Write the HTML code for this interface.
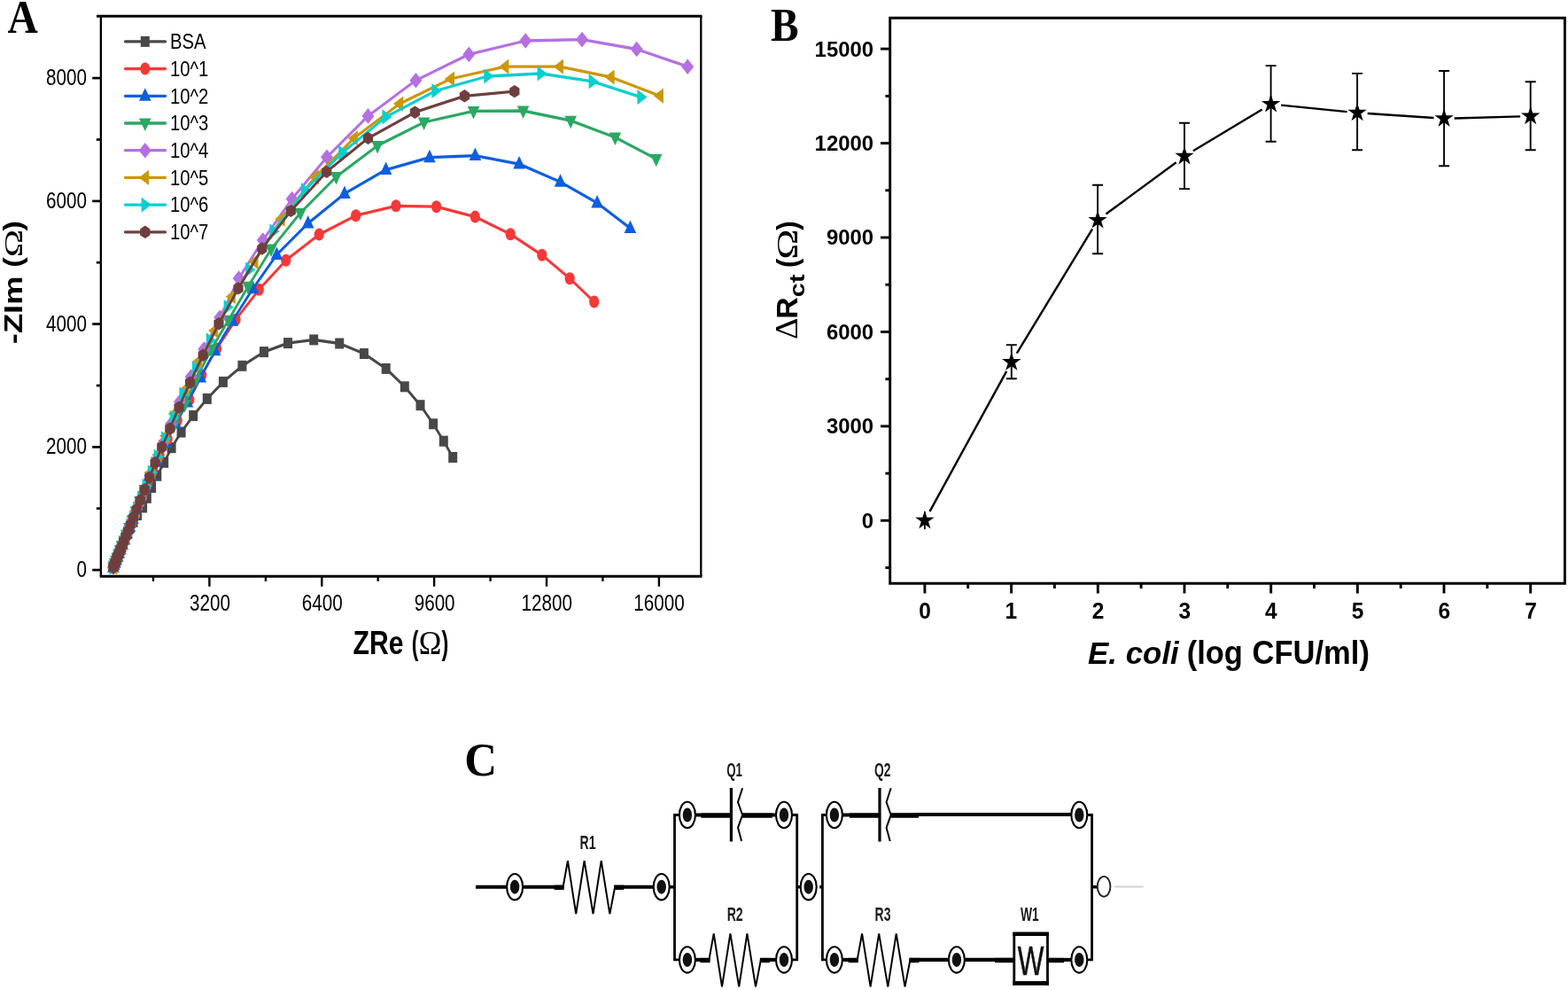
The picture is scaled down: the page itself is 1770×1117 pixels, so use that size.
<!DOCTYPE html>
<html><head><meta charset="utf-8"><title>Figure</title>
<style>html,body{margin:0;padding:0;background:#fff}svg{display:block}</style></head>
<body>
<svg width="1770" height="1117" viewBox="0 0 1770 1117">
<rect width="1770" height="1117" fill="#fff"/>
<text transform="translate(8.44,37.00) scale(0.9040,1.0000)" font-family="Liberation Serif, Times New Roman, serif" font-size="52.56" font-weight="bold" xml:space="preserve">A</text>
<text transform="translate(870.01,45.80) scale(0.8968,1.0000)" font-family="Liberation Serif, Times New Roman, serif" font-size="52.84" font-weight="bold" xml:space="preserve">B</text>
<text transform="translate(524.31,875.40) scale(0.9631,1.0000)" font-family="Liberation Serif, Times New Roman, serif" font-size="52.86" font-weight="bold" xml:space="preserve">C</text>
<g id="panelA">
<path d="M109 18.2H792.5M112.75 650.2H792.5" fill="none" stroke="#000" stroke-width="3"/>
<path d="M113.85 18.2V650.2M791.3 18.2V650.2" fill="none" stroke="#000" stroke-width="2.3"/>
<line x1="104.2" x2="113.85" y1="643.1" y2="643.1" stroke="#000" stroke-width="2.7"/>
<text transform="translate(86.42,651.10) scale(0.8260,1.0000)" font-family="Liberation Sans, Arial, Helvetica, sans-serif" font-size="25" xml:space="preserve">0</text>
<line x1="104.2" x2="113.85" y1="504.4" y2="504.4" stroke="#000" stroke-width="2.7"/>
<text transform="translate(51.97,512.35) scale(0.8260,1.0000)" font-family="Liberation Sans, Arial, Helvetica, sans-serif" font-size="25" xml:space="preserve">2000</text>
<line x1="104.2" x2="113.85" y1="365.6" y2="365.6" stroke="#000" stroke-width="2.7"/>
<text transform="translate(51.97,373.60) scale(0.8260,1.0000)" font-family="Liberation Sans, Arial, Helvetica, sans-serif" font-size="25" xml:space="preserve">4000</text>
<line x1="104.2" x2="113.85" y1="226.9" y2="226.9" stroke="#000" stroke-width="2.7"/>
<text transform="translate(51.97,234.85) scale(0.8260,1.0000)" font-family="Liberation Sans, Arial, Helvetica, sans-serif" font-size="25" xml:space="preserve">6000</text>
<line x1="104.2" x2="113.85" y1="88.1" y2="88.1" stroke="#000" stroke-width="2.7"/>
<text transform="translate(51.97,96.10) scale(0.8260,1.0000)" font-family="Liberation Sans, Arial, Helvetica, sans-serif" font-size="25" xml:space="preserve">8000</text>
<line x1="108.8" x2="113.85" y1="573.7" y2="573.7" stroke="#000" stroke-width="2.7"/>
<line x1="108.8" x2="113.85" y1="435.0" y2="435.0" stroke="#000" stroke-width="2.7"/>
<line x1="108.8" x2="113.85" y1="296.2" y2="296.2" stroke="#000" stroke-width="2.7"/>
<line x1="108.8" x2="113.85" y1="157.5" y2="157.5" stroke="#000" stroke-width="2.7"/>
<line x1="236.4" x2="236.4" y1="650.2" y2="661.7" stroke="#000" stroke-width="2.4"/>
<text transform="translate(214.09,689.40) scale(0.8260,1.0000)" font-family="Liberation Sans, Arial, Helvetica, sans-serif" font-size="25" xml:space="preserve">3200</text>
<line x1="363.3" x2="363.3" y1="650.2" y2="661.7" stroke="#000" stroke-width="2.4"/>
<text transform="translate(340.81,689.40) scale(0.8260,1.0000)" font-family="Liberation Sans, Arial, Helvetica, sans-serif" font-size="25" xml:space="preserve">6400</text>
<line x1="490.1" x2="490.1" y1="650.2" y2="661.7" stroke="#000" stroke-width="2.4"/>
<text transform="translate(467.70,689.40) scale(0.8260,1.0000)" font-family="Liberation Sans, Arial, Helvetica, sans-serif" font-size="25" xml:space="preserve">9600</text>
<line x1="617.0" x2="617.0" y1="650.2" y2="661.7" stroke="#000" stroke-width="2.4"/>
<text transform="translate(588.51,689.40) scale(0.8260,1.0000)" font-family="Liberation Sans, Arial, Helvetica, sans-serif" font-size="25" xml:space="preserve">12800</text>
<line x1="743.9" x2="743.9" y1="650.2" y2="661.7" stroke="#000" stroke-width="2.4"/>
<text transform="translate(715.36,689.40) scale(0.8260,1.0000)" font-family="Liberation Sans, Arial, Helvetica, sans-serif" font-size="25" xml:space="preserve">16000</text>
<line x1="173.0" x2="173.0" y1="650.2" y2="655.9" stroke="#000" stroke-width="2.4"/>
<line x1="299.9" x2="299.9" y1="650.2" y2="655.9" stroke="#000" stroke-width="2.4"/>
<line x1="426.7" x2="426.7" y1="650.2" y2="655.9" stroke="#000" stroke-width="2.4"/>
<line x1="553.6" x2="553.6" y1="650.2" y2="655.9" stroke="#000" stroke-width="2.4"/>
<line x1="680.4" x2="680.4" y1="650.2" y2="655.9" stroke="#000" stroke-width="2.4"/>
<text transform="translate(398.60,738.30) scale(0.8050,1.0000)" font-family="Liberation Sans, Arial, Helvetica, sans-serif" font-size="37.5" font-weight="bold" xml:space="preserve">ZRe</text>
<text transform="translate(464.75,738.30) scale(0.6175,1.0000)" font-family="Liberation Sans, Arial, Helvetica, sans-serif" font-size="37.3" font-weight="bold" xml:space="preserve">(</text>
<text transform="translate(472.72,738.30) scale(0.9218,1.0000)" font-family="Liberation Serif, Times New Roman, serif" font-size="37.31" xml:space="preserve">Ω</text>
<text transform="translate(498.48,738.30) scale(0.6270,1.0000)" font-family="Liberation Sans, Arial, Helvetica, sans-serif" font-size="37.3" font-weight="bold" xml:space="preserve">)</text>
<text transform="translate(25.10,386.80) rotate(-90) translate(-1.42,0) scale(0.9992,0.8306)" font-family="Liberation Sans, Arial, Helvetica, sans-serif" font-size="36.4" font-weight="bold">-ZIm</text>
<text transform="translate(25.10,300.10) rotate(-90) translate(-1.71,0) scale(0.9442,0.8306)" font-family="Liberation Sans, Arial, Helvetica, sans-serif" font-size="36.4" font-weight="bold">(</text>
<text transform="translate(25.10,288.00) rotate(-90) translate(-2.20,0) scale(1.4513,1.0000)" font-family="Liberation Serif, Times New Roman, serif" font-size="29.3">Ω</text>
<text transform="translate(25.10,260.40) rotate(-90) translate(-0.03,0) scale(0.9442,0.8306)" font-family="Liberation Sans, Arial, Helvetica, sans-serif" font-size="36.4" font-weight="bold">)</text>
<path transform="scale(0.8,1)" d="M159.88 640.2L160.69 638.6L161.25 637.5L161.90 636.2L162.63 634.7L163.47 633.0L164.44 631.1L165.54 628.9L166.80 626.5L168.24 623.6L169.90 620.3L171.82 616.6L174.04 612.4L176.63 607.6L179.70 602.1L183.40 595.9L187.95 588.9L193.74 581.1L201.37 572.5L207.25 561.8L213.87 550.0L221.62 536.8L231.50 521.8L242.00 505.2L255.75 487.6L272.75 469.0L292.25 449.9L314.88 430.9L341.75 412.8L372.50 397.1L406.25 387.1L442.75 383.4L479.00 387.5L513.62 399.0L544.62 415.9L571.00 436.3L593.12 457.2L611.38 478.3L626.00 497.7L639.00 516.0" fill="none" stroke="#484848" stroke-width="3.3" stroke-linejoin="round"/>
<rect x="122.9" y="634.2" width="10" height="12" fill="#484848"/><rect x="123.6" y="632.6" width="10" height="12" fill="#484848"/><rect x="124.0" y="631.5" width="10" height="12" fill="#484848"/><rect x="124.5" y="630.2" width="10" height="12" fill="#484848"/><rect x="125.1" y="628.7" width="10" height="12" fill="#484848"/><rect x="125.8" y="627.0" width="10" height="12" fill="#484848"/><rect x="126.5" y="625.1" width="10" height="12" fill="#484848"/><rect x="127.4" y="622.9" width="10" height="12" fill="#484848"/><rect x="128.4" y="620.5" width="10" height="12" fill="#484848"/><rect x="129.6" y="617.6" width="10" height="12" fill="#484848"/><rect x="130.9" y="614.3" width="10" height="12" fill="#484848"/><rect x="132.5" y="610.6" width="10" height="12" fill="#484848"/><rect x="134.2" y="606.4" width="10" height="12" fill="#484848"/><rect x="136.3" y="601.6" width="10" height="12" fill="#484848"/><rect x="138.8" y="596.1" width="10" height="12" fill="#484848"/><rect x="141.7" y="589.9" width="10" height="12" fill="#484848"/><rect x="145.4" y="582.9" width="10" height="12" fill="#484848"/><rect x="150.0" y="575.1" width="10" height="12" fill="#484848"/><rect x="156.1" y="566.5" width="10" height="12" fill="#484848"/><rect x="160.8" y="555.8" width="10" height="12" fill="#484848"/><rect x="166.1" y="544.0" width="10" height="12" fill="#484848"/><rect x="172.3" y="530.8" width="10" height="12" fill="#484848"/><rect x="180.2" y="515.8" width="10" height="12" fill="#484848"/><rect x="188.6" y="499.2" width="10" height="12" fill="#484848"/><rect x="199.6" y="481.6" width="10" height="12" fill="#484848"/><rect x="213.2" y="463.0" width="10" height="12" fill="#484848"/><rect x="228.8" y="443.9" width="10" height="12" fill="#484848"/><rect x="246.9" y="424.9" width="10" height="12" fill="#484848"/><rect x="268.4" y="406.8" width="10" height="12" fill="#484848"/><rect x="293.0" y="391.1" width="10" height="12" fill="#484848"/><rect x="320.0" y="381.1" width="10" height="12" fill="#484848"/><rect x="349.2" y="377.4" width="10" height="12" fill="#484848"/><rect x="378.2" y="381.5" width="10" height="12" fill="#484848"/><rect x="405.9" y="393.0" width="10" height="12" fill="#484848"/><rect x="430.7" y="409.9" width="10" height="12" fill="#484848"/><rect x="451.8" y="430.3" width="10" height="12" fill="#484848"/><rect x="469.5" y="451.2" width="10" height="12" fill="#484848"/><rect x="484.1" y="472.3" width="10" height="12" fill="#484848"/><rect x="495.8" y="491.7" width="10" height="12" fill="#484848"/><rect x="506.2" y="510.0" width="10" height="12" fill="#484848"/>
<path transform="scale(0.8,1)" d="M159.88 640.2L160.73 638.5L161.39 637.2L162.16 635.7L163.03 633.9L164.02 631.9L165.16 629.7L166.46 627.1L167.95 624.1L169.65 620.8L171.59 616.9L173.81 612.5L176.35 607.4L179.26 601.7L182.58 595.1L186.39 587.6L190.75 579.0L195.77 569.1L201.54 557.9L208.27 545.2L215.98 530.6L225.18 514.1L236.55 495.5L250.30 474.5L267.38 450.9L284.62 423.3L305.75 393.4L332.62 360.7L365.38 326.8L403.50 293.7L450.25 264.6L502.12 243.2L558.75 232.3L615.75 233.2L670.37 244.6L720.25 264.2L764.75 287.8L804.00 314.2L838.38 340.5" fill="none" stroke="#F63838" stroke-width="3.3" stroke-linejoin="round"/>
<ellipse cx="127.9" cy="640.2" rx="5.6" ry="7" fill="#F63838"/><ellipse cx="128.6" cy="638.5" rx="5.6" ry="7" fill="#F63838"/><ellipse cx="129.1" cy="637.2" rx="5.6" ry="7" fill="#F63838"/><ellipse cx="129.7" cy="635.7" rx="5.6" ry="7" fill="#F63838"/><ellipse cx="130.4" cy="633.9" rx="5.6" ry="7" fill="#F63838"/><ellipse cx="131.2" cy="631.9" rx="5.6" ry="7" fill="#F63838"/><ellipse cx="132.1" cy="629.7" rx="5.6" ry="7" fill="#F63838"/><ellipse cx="133.2" cy="627.1" rx="5.6" ry="7" fill="#F63838"/><ellipse cx="134.4" cy="624.1" rx="5.6" ry="7" fill="#F63838"/><ellipse cx="135.7" cy="620.8" rx="5.6" ry="7" fill="#F63838"/><ellipse cx="137.3" cy="616.9" rx="5.6" ry="7" fill="#F63838"/><ellipse cx="139.0" cy="612.5" rx="5.6" ry="7" fill="#F63838"/><ellipse cx="141.1" cy="607.4" rx="5.6" ry="7" fill="#F63838"/><ellipse cx="143.4" cy="601.7" rx="5.6" ry="7" fill="#F63838"/><ellipse cx="146.1" cy="595.1" rx="5.6" ry="7" fill="#F63838"/><ellipse cx="149.1" cy="587.6" rx="5.6" ry="7" fill="#F63838"/><ellipse cx="152.6" cy="579.0" rx="5.6" ry="7" fill="#F63838"/><ellipse cx="156.6" cy="569.1" rx="5.6" ry="7" fill="#F63838"/><ellipse cx="161.2" cy="557.9" rx="5.6" ry="7" fill="#F63838"/><ellipse cx="166.6" cy="545.2" rx="5.6" ry="7" fill="#F63838"/><ellipse cx="172.8" cy="530.6" rx="5.6" ry="7" fill="#F63838"/><ellipse cx="180.1" cy="514.1" rx="5.6" ry="7" fill="#F63838"/><ellipse cx="189.2" cy="495.5" rx="5.6" ry="7" fill="#F63838"/><ellipse cx="200.2" cy="474.5" rx="5.6" ry="7" fill="#F63838"/><ellipse cx="213.9" cy="450.9" rx="5.6" ry="7" fill="#F63838"/><ellipse cx="227.7" cy="423.3" rx="5.6" ry="7" fill="#F63838"/><ellipse cx="244.6" cy="393.4" rx="5.6" ry="7" fill="#F63838"/><ellipse cx="266.1" cy="360.7" rx="5.6" ry="7" fill="#F63838"/><ellipse cx="292.3" cy="326.8" rx="5.6" ry="7" fill="#F63838"/><ellipse cx="322.8" cy="293.7" rx="5.6" ry="7" fill="#F63838"/><ellipse cx="360.2" cy="264.6" rx="5.6" ry="7" fill="#F63838"/><ellipse cx="401.7" cy="243.2" rx="5.6" ry="7" fill="#F63838"/><ellipse cx="447.0" cy="232.3" rx="5.6" ry="7" fill="#F63838"/><ellipse cx="492.6" cy="233.2" rx="5.6" ry="7" fill="#F63838"/><ellipse cx="536.3" cy="244.6" rx="5.6" ry="7" fill="#F63838"/><ellipse cx="576.2" cy="264.2" rx="5.6" ry="7" fill="#F63838"/><ellipse cx="611.8" cy="287.8" rx="5.6" ry="7" fill="#F63838"/><ellipse cx="643.2" cy="314.2" rx="5.6" ry="7" fill="#F63838"/><ellipse cx="670.7" cy="340.5" rx="5.6" ry="7" fill="#F63838"/>
<path transform="scale(0.8,1)" d="M159.88 640.2L161.17 637.6L162.50 635.0L164.03 631.9L165.77 628.5L167.76 624.5L170.04 620.0L172.65 614.8L175.62 608.9L179.03 602.1L182.93 594.4L187.39 585.6L192.52 575.5L198.41 564.0L205.21 550.9L213.14 535.9L222.27 518.9L233.65 499.7L247.46 478.1L264.38 453.9L282.88 425.9L303.25 395.8L327.88 362.3L356.75 325.8L390.50 287.4L434.62 252.0L486.12 218.6L544.50 191.6L606.12 177.7L670.50 175.6L732.62 185.1L790.62 205.2L842.62 229.0L889.25 257.5" fill="none" stroke="#0D5EE0" stroke-width="3.3" stroke-linejoin="round"/>
<path d="M127.9 631.2L134.7 645.7L121.1 645.7Z" fill="#0D5EE0"/><path d="M128.9 628.6L135.7 643.1L122.1 643.1Z" fill="#0D5EE0"/><path d="M130.0 626.0L136.8 640.5L123.2 640.5Z" fill="#0D5EE0"/><path d="M131.2 622.9L138.0 637.4L124.4 637.4Z" fill="#0D5EE0"/><path d="M132.6 619.5L139.4 634.0L125.8 634.0Z" fill="#0D5EE0"/><path d="M134.2 615.5L141.0 630.0L127.4 630.0Z" fill="#0D5EE0"/><path d="M136.0 611.0L142.8 625.5L129.2 625.5Z" fill="#0D5EE0"/><path d="M138.1 605.8L144.9 620.3L131.3 620.3Z" fill="#0D5EE0"/><path d="M140.5 599.9L147.3 614.4L133.7 614.4Z" fill="#0D5EE0"/><path d="M143.2 593.1L150.0 607.6L136.4 607.6Z" fill="#0D5EE0"/><path d="M146.3 585.4L153.1 599.9L139.5 599.9Z" fill="#0D5EE0"/><path d="M149.9 576.6L156.7 591.1L143.1 591.1Z" fill="#0D5EE0"/><path d="M154.0 566.5L160.8 581.0L147.2 581.0Z" fill="#0D5EE0"/><path d="M158.7 555.0L165.5 569.5L151.9 569.5Z" fill="#0D5EE0"/><path d="M164.2 541.9L171.0 556.4L157.4 556.4Z" fill="#0D5EE0"/><path d="M170.5 526.9L177.3 541.4L163.7 541.4Z" fill="#0D5EE0"/><path d="M177.8 509.9L184.6 524.4L171.0 524.4Z" fill="#0D5EE0"/><path d="M186.9 490.7L193.7 505.2L180.1 505.2Z" fill="#0D5EE0"/><path d="M198.0 469.1L204.8 483.6L191.2 483.6Z" fill="#0D5EE0"/><path d="M211.5 444.9L218.3 459.4L204.7 459.4Z" fill="#0D5EE0"/><path d="M226.3 416.9L233.1 431.4L219.5 431.4Z" fill="#0D5EE0"/><path d="M242.6 386.8L249.4 401.3L235.8 401.3Z" fill="#0D5EE0"/><path d="M262.3 353.3L269.1 367.8L255.5 367.8Z" fill="#0D5EE0"/><path d="M285.4 316.8L292.2 331.3L278.6 331.3Z" fill="#0D5EE0"/><path d="M312.4 278.4L319.2 292.9L305.6 292.9Z" fill="#0D5EE0"/><path d="M347.7 243.0L354.5 257.5L340.9 257.5Z" fill="#0D5EE0"/><path d="M388.9 209.6L395.7 224.1L382.1 224.1Z" fill="#0D5EE0"/><path d="M435.6 182.6L442.4 197.1L428.8 197.1Z" fill="#0D5EE0"/><path d="M484.9 168.7L491.7 183.2L478.1 183.2Z" fill="#0D5EE0"/><path d="M536.4 166.6L543.2 181.1L529.6 181.1Z" fill="#0D5EE0"/><path d="M586.1 176.1L592.9 190.6L579.3 190.6Z" fill="#0D5EE0"/><path d="M632.5 196.2L639.3 210.7L625.7 210.7Z" fill="#0D5EE0"/><path d="M674.1 220.0L680.9 234.5L667.3 234.5Z" fill="#0D5EE0"/><path d="M711.4 248.5L718.2 263.0L704.6 263.0Z" fill="#0D5EE0"/>
<path transform="scale(0.8,1)" d="M159.88 640.2L160.86 638.2L162.18 635.6L163.68 632.6L165.40 629.2L167.37 625.3L169.61 620.8L172.18 615.7L175.12 609.9L178.48 603.2L182.32 595.6L186.72 586.9L191.76 576.9L197.54 565.6L204.20 552.6L211.98 537.9L220.75 521.0L231.68 502.0L244.85 480.6L260.62 456.4L276.62 427.9L298.12 394.0L322.25 361.3L350.12 323.3L382.62 281.1L423.88 240.2L474.38 199.5L532.62 164.4L598.25 138.0L668.12 125.4L738.25 125.0L805.25 136.2L868.00 155.0L925.88 179.2" fill="none" stroke="#2AA862" stroke-width="3.3" stroke-linejoin="round"/>
<path d="M127.9 649.2L134.7 634.7L121.1 634.7Z" fill="#2AA862"/><path d="M128.7 647.2L135.5 632.7L121.9 632.7Z" fill="#2AA862"/><path d="M129.7 644.6L136.5 630.1L122.9 630.1Z" fill="#2AA862"/><path d="M130.9 641.6L137.7 627.1L124.1 627.1Z" fill="#2AA862"/><path d="M132.3 638.2L139.1 623.7L125.5 623.7Z" fill="#2AA862"/><path d="M133.9 634.3L140.7 619.8L127.1 619.8Z" fill="#2AA862"/><path d="M135.7 629.8L142.5 615.3L128.9 615.3Z" fill="#2AA862"/><path d="M137.7 624.7L144.5 610.2L130.9 610.2Z" fill="#2AA862"/><path d="M140.1 618.9L146.9 604.4L133.3 604.4Z" fill="#2AA862"/><path d="M142.8 612.2L149.6 597.7L136.0 597.7Z" fill="#2AA862"/><path d="M145.9 604.6L152.7 590.1L139.1 590.1Z" fill="#2AA862"/><path d="M149.4 595.9L156.2 581.4L142.6 581.4Z" fill="#2AA862"/><path d="M153.4 585.9L160.2 571.4L146.6 571.4Z" fill="#2AA862"/><path d="M158.0 574.6L164.8 560.1L151.2 560.1Z" fill="#2AA862"/><path d="M163.4 561.6L170.2 547.1L156.6 547.1Z" fill="#2AA862"/><path d="M169.6 546.9L176.4 532.4L162.8 532.4Z" fill="#2AA862"/><path d="M176.6 530.0L183.4 515.5L169.8 515.5Z" fill="#2AA862"/><path d="M185.3 511.0L192.1 496.5L178.5 496.5Z" fill="#2AA862"/><path d="M195.9 489.6L202.7 475.1L189.1 475.1Z" fill="#2AA862"/><path d="M208.5 465.4L215.3 450.9L201.7 450.9Z" fill="#2AA862"/><path d="M221.3 436.9L228.1 422.4L214.5 422.4Z" fill="#2AA862"/><path d="M238.5 403.0L245.3 388.5L231.7 388.5Z" fill="#2AA862"/><path d="M257.8 370.3L264.6 355.8L251.0 355.8Z" fill="#2AA862"/><path d="M280.1 332.3L286.9 317.8L273.3 317.8Z" fill="#2AA862"/><path d="M306.1 290.1L312.9 275.6L299.3 275.6Z" fill="#2AA862"/><path d="M339.1 249.2L345.9 234.7L332.3 234.7Z" fill="#2AA862"/><path d="M379.5 208.5L386.3 194.0L372.7 194.0Z" fill="#2AA862"/><path d="M426.1 173.4L432.9 158.9L419.3 158.9Z" fill="#2AA862"/><path d="M478.6 147.0L485.4 132.5L471.8 132.5Z" fill="#2AA862"/><path d="M534.5 134.4L541.3 119.9L527.7 119.9Z" fill="#2AA862"/><path d="M590.6 134.0L597.4 119.5L583.8 119.5Z" fill="#2AA862"/><path d="M644.2 145.2L651.0 130.7L637.4 130.7Z" fill="#2AA862"/><path d="M694.4 164.0L701.2 149.5L687.6 149.5Z" fill="#2AA862"/><path d="M740.7 188.2L747.5 173.7L733.9 173.7Z" fill="#2AA862"/>
<path transform="scale(0.8,1)" d="M159.88 640.2L160.76 638.4L161.91 636.2L163.21 633.6L164.71 630.6L166.41 627.2L168.36 623.3L170.59 618.9L173.13 613.8L176.04 608.0L179.36 601.4L183.16 593.9L187.50 585.2L192.45 575.3L198.09 564.0L204.54 551.1L211.92 536.4L220.11 519.5L229.96 500.3L241.24 478.4L253.75 453.3L269.50 425.0L287.88 394.0L310.25 358.2L337.00 314.0L371.00 271.0L412.00 224.5L461.25 177.2L519.38 130.9L586.75 90.7L661.62 61.4L741.50 46.0L821.25 44.6L898.38 55.5L970.25 75.2" fill="none" stroke="#B470E1" stroke-width="3.3" stroke-linejoin="round"/>
<path d="M127.9 631.4L134.9 640.2L127.9 649.0L120.9 640.2Z" fill="#B470E1"/><path d="M128.6 629.6L135.6 638.4L128.6 647.2L121.6 638.4Z" fill="#B470E1"/><path d="M129.5 627.4L136.5 636.2L129.5 645.0L122.5 636.2Z" fill="#B470E1"/><path d="M130.6 624.8L137.6 633.6L130.6 642.4L123.6 633.6Z" fill="#B470E1"/><path d="M131.8 621.8L138.8 630.6L131.8 639.4L124.8 630.6Z" fill="#B470E1"/><path d="M133.1 618.4L140.1 627.2L133.1 636.0L126.1 627.2Z" fill="#B470E1"/><path d="M134.7 614.5L141.7 623.3L134.7 632.1L127.7 623.3Z" fill="#B470E1"/><path d="M136.5 610.1L143.5 618.9L136.5 627.7L129.5 618.9Z" fill="#B470E1"/><path d="M138.5 605.0L145.5 613.8L138.5 622.6L131.5 613.8Z" fill="#B470E1"/><path d="M140.8 599.2L147.8 608.0L140.8 616.8L133.8 608.0Z" fill="#B470E1"/><path d="M143.5 592.6L150.5 601.4L143.5 610.2L136.5 601.4Z" fill="#B470E1"/><path d="M146.5 585.1L153.5 593.9L146.5 602.7L139.5 593.9Z" fill="#B470E1"/><path d="M150.0 576.4L157.0 585.2L150.0 594.0L143.0 585.2Z" fill="#B470E1"/><path d="M154.0 566.5L161.0 575.3L154.0 584.1L147.0 575.3Z" fill="#B470E1"/><path d="M158.5 555.2L165.5 564.0L158.5 572.8L151.5 564.0Z" fill="#B470E1"/><path d="M163.6 542.3L170.6 551.1L163.6 559.9L156.6 551.1Z" fill="#B470E1"/><path d="M169.5 527.6L176.5 536.4L169.5 545.2L162.5 536.4Z" fill="#B470E1"/><path d="M176.1 510.7L183.1 519.5L176.1 528.3L169.1 519.5Z" fill="#B470E1"/><path d="M184.0 491.5L191.0 500.3L184.0 509.1L177.0 500.3Z" fill="#B470E1"/><path d="M193.0 469.6L200.0 478.4L193.0 487.2L186.0 478.4Z" fill="#B470E1"/><path d="M203.0 444.5L210.0 453.3L203.0 462.1L196.0 453.3Z" fill="#B470E1"/><path d="M215.6 416.2L222.6 425.0L215.6 433.8L208.6 425.0Z" fill="#B470E1"/><path d="M230.3 385.2L237.3 394.0L230.3 402.8L223.3 394.0Z" fill="#B470E1"/><path d="M248.2 349.4L255.2 358.2L248.2 367.0L241.2 358.2Z" fill="#B470E1"/><path d="M269.6 305.2L276.6 314.0L269.6 322.8L262.6 314.0Z" fill="#B470E1"/><path d="M296.8 262.2L303.8 271.0L296.8 279.8L289.8 271.0Z" fill="#B470E1"/><path d="M329.6 215.7L336.6 224.5L329.6 233.3L322.6 224.5Z" fill="#B470E1"/><path d="M369.0 168.4L376.0 177.2L369.0 186.0L362.0 177.2Z" fill="#B470E1"/><path d="M415.5 122.1L422.5 130.9L415.5 139.7L408.5 130.9Z" fill="#B470E1"/><path d="M469.4 81.9L476.4 90.7L469.4 99.5L462.4 90.7Z" fill="#B470E1"/><path d="M529.3 52.6L536.3 61.4L529.3 70.2L522.3 61.4Z" fill="#B470E1"/><path d="M593.2 37.2L600.2 46.0L593.2 54.8L586.2 46.0Z" fill="#B470E1"/><path d="M657.0 35.8L664.0 44.6L657.0 53.4L650.0 44.6Z" fill="#B470E1"/><path d="M718.7 46.7L725.7 55.5L718.7 64.3L711.7 55.5Z" fill="#B470E1"/><path d="M776.2 66.4L783.2 75.2L776.2 84.0L769.2 75.2Z" fill="#B470E1"/>
<path transform="scale(0.8,1)" d="M159.88 640.2L160.87 638.2L162.78 634.4L164.97 630.1L167.47 625.1L170.33 619.4L173.59 612.9L177.32 605.5L181.58 597.0L186.44 587.3L191.99 576.2L198.31 563.5L205.52 549.0L213.67 532.4L222.91 513.3L233.82 491.7L245.87 466.7L261.88 439.1L280.38 407.6L302.50 373.1L327.12 334.7L359.12 295.3L396.75 247.1L444.75 199.8L499.50 155.9L563.75 117.1L636.00 89.0L712.75 75.2L789.75 75.2L861.88 87.0L930.88 108.1" fill="none" stroke="#CC9707" stroke-width="3.3" stroke-linejoin="round"/>
<path d="M120.9 640.2L132.1 631.6L132.1 648.8Z" fill="#CC9707"/><path d="M121.7 638.2L132.9 629.6L132.9 646.8Z" fill="#CC9707"/><path d="M123.2 634.4L134.4 625.8L134.4 643.0Z" fill="#CC9707"/><path d="M125.0 630.1L136.2 621.5L136.2 638.7Z" fill="#CC9707"/><path d="M127.0 625.1L138.2 616.5L138.2 633.7Z" fill="#CC9707"/><path d="M129.3 619.4L140.5 610.8L140.5 628.0Z" fill="#CC9707"/><path d="M131.9 612.9L143.1 604.3L143.1 621.5Z" fill="#CC9707"/><path d="M134.9 605.5L146.1 596.9L146.1 614.1Z" fill="#CC9707"/><path d="M138.3 597.0L149.5 588.4L149.5 605.6Z" fill="#CC9707"/><path d="M142.2 587.3L153.4 578.7L153.4 595.9Z" fill="#CC9707"/><path d="M146.6 576.2L157.8 567.6L157.8 584.8Z" fill="#CC9707"/><path d="M151.7 563.5L162.9 554.9L162.9 572.1Z" fill="#CC9707"/><path d="M157.4 549.0L168.6 540.4L168.6 557.6Z" fill="#CC9707"/><path d="M163.9 532.4L175.1 523.8L175.1 541.0Z" fill="#CC9707"/><path d="M171.3 513.3L182.5 504.7L182.5 521.9Z" fill="#CC9707"/><path d="M180.1 491.7L191.3 483.1L191.3 500.3Z" fill="#CC9707"/><path d="M189.7 466.7L200.9 458.1L200.9 475.3Z" fill="#CC9707"/><path d="M202.5 439.1L213.7 430.5L213.7 447.7Z" fill="#CC9707"/><path d="M217.3 407.6L228.5 399.0L228.5 416.2Z" fill="#CC9707"/><path d="M235.0 373.1L246.2 364.5L246.2 381.7Z" fill="#CC9707"/><path d="M254.7 334.7L265.9 326.1L265.9 343.3Z" fill="#CC9707"/><path d="M280.3 295.3L291.5 286.7L291.5 303.9Z" fill="#CC9707"/><path d="M310.4 247.1L321.6 238.5L321.6 255.7Z" fill="#CC9707"/><path d="M348.8 199.8L360.0 191.2L360.0 208.4Z" fill="#CC9707"/><path d="M392.6 155.9L403.8 147.3L403.8 164.5Z" fill="#CC9707"/><path d="M444.0 117.1L455.2 108.5L455.2 125.7Z" fill="#CC9707"/><path d="M501.8 89.0L513.0 80.4L513.0 97.6Z" fill="#CC9707"/><path d="M563.2 75.2L574.4 66.6L574.4 83.8Z" fill="#CC9707"/><path d="M624.8 75.2L636.0 66.6L636.0 83.8Z" fill="#CC9707"/><path d="M682.5 87.0L693.7 78.4L693.7 95.6Z" fill="#CC9707"/><path d="M737.7 108.1L748.9 99.5L748.9 116.7Z" fill="#CC9707"/>
<path transform="scale(0.8,1)" d="M159.88 640.2L160.63 638.7L162.02 635.9L163.60 632.8L165.40 629.2L167.47 625.1L169.83 620.4L172.53 615.0L175.61 608.9L179.13 601.9L183.15 593.9L187.75 584.7L193.00 574.2L198.98 562.3L205.83 548.6L213.59 533.0L222.41 515.1L232.93 494.8L244.82 471.6L258.25 445.0L276.25 415.5L296.38 383.9L321.00 346.5L351.75 304.2L385.75 260.9L430.00 214.6L483.00 172.3L544.50 131.9L614.50 102.5L688.25 86.0L763.38 83.0L836.00 91.9L904.50 109.6" fill="none" stroke="#08CED1" stroke-width="3.3" stroke-linejoin="round"/>
<path d="M134.9 640.2L123.7 631.6L123.7 648.8Z" fill="#08CED1"/><path d="M135.5 638.7L124.3 630.1L124.3 647.3Z" fill="#08CED1"/><path d="M136.6 635.9L125.4 627.3L125.4 644.5Z" fill="#08CED1"/><path d="M137.9 632.8L126.7 624.2L126.7 641.4Z" fill="#08CED1"/><path d="M139.3 629.2L128.1 620.6L128.1 637.8Z" fill="#08CED1"/><path d="M141.0 625.1L129.8 616.5L129.8 633.7Z" fill="#08CED1"/><path d="M142.9 620.4L131.7 611.8L131.7 629.0Z" fill="#08CED1"/><path d="M145.0 615.0L133.8 606.4L133.8 623.6Z" fill="#08CED1"/><path d="M147.5 608.9L136.3 600.3L136.3 617.5Z" fill="#08CED1"/><path d="M150.3 601.9L139.1 593.3L139.1 610.5Z" fill="#08CED1"/><path d="M153.5 593.9L142.3 585.3L142.3 602.5Z" fill="#08CED1"/><path d="M157.2 584.7L146.0 576.1L146.0 593.3Z" fill="#08CED1"/><path d="M161.4 574.2L150.2 565.6L150.2 582.8Z" fill="#08CED1"/><path d="M166.2 562.3L155.0 553.7L155.0 570.9Z" fill="#08CED1"/><path d="M171.7 548.6L160.5 540.0L160.5 557.2Z" fill="#08CED1"/><path d="M177.9 533.0L166.7 524.4L166.7 541.6Z" fill="#08CED1"/><path d="M184.9 515.1L173.7 506.5L173.7 523.7Z" fill="#08CED1"/><path d="M193.3 494.8L182.1 486.2L182.1 503.4Z" fill="#08CED1"/><path d="M202.9 471.6L191.7 463.0L191.7 480.2Z" fill="#08CED1"/><path d="M213.6 445.0L202.4 436.4L202.4 453.6Z" fill="#08CED1"/><path d="M228.0 415.5L216.8 406.9L216.8 424.1Z" fill="#08CED1"/><path d="M244.1 383.9L232.9 375.3L232.9 392.5Z" fill="#08CED1"/><path d="M263.8 346.5L252.6 337.9L252.6 355.1Z" fill="#08CED1"/><path d="M288.4 304.2L277.2 295.6L277.2 312.8Z" fill="#08CED1"/><path d="M315.6 260.9L304.4 252.3L304.4 269.5Z" fill="#08CED1"/><path d="M351.0 214.6L339.8 206.0L339.8 223.2Z" fill="#08CED1"/><path d="M393.4 172.3L382.2 163.7L382.2 180.9Z" fill="#08CED1"/><path d="M442.6 131.9L431.4 123.3L431.4 140.5Z" fill="#08CED1"/><path d="M498.6 102.5L487.4 93.9L487.4 111.1Z" fill="#08CED1"/><path d="M557.6 86.0L546.4 77.4L546.4 94.6Z" fill="#08CED1"/><path d="M617.7 83.0L606.5 74.4L606.5 91.6Z" fill="#08CED1"/><path d="M675.8 91.9L664.6 83.3L664.6 100.5Z" fill="#08CED1"/><path d="M730.6 109.6L719.4 101.0L719.4 118.2Z" fill="#08CED1"/>
<path transform="scale(0.8,1)" d="M159.88 640.2L160.80 638.4L161.51 637.0L162.32 635.3L163.25 633.5L164.32 631.4L165.53 628.9L166.92 626.2L168.51 623.0L170.33 619.4L172.40 615.3L174.77 610.6L177.48 605.2L180.58 599.0L184.11 592.0L188.15 583.9L192.76 574.8L198.01 564.3L204.00 552.4L211.00 538.7L219.00 522.3L228.37 504.5L239.75 483.6L252.50 459.6L268.12 431.6L286.50 400.7L308.75 365.2L336.25 325.4L369.75 280.5L410.38 237.9L460.75 193.9L519.38 155.9L585.50 126.7L655.50 108.3L726.00 103.1" fill="none" stroke="#6F3F3F" stroke-width="3.3" stroke-linejoin="round"/>
<path d="M127.9 633.0L133.5 636.6L133.5 643.8L127.9 647.4L122.3 643.8L122.3 636.6Z" fill="#6F3F3F"/><path d="M128.6 631.2L134.2 634.8L134.2 642.0L128.6 645.6L123.0 642.0L123.0 634.8Z" fill="#6F3F3F"/><path d="M129.2 629.8L134.8 633.4L134.8 640.6L129.2 644.2L123.6 640.6L123.6 633.4Z" fill="#6F3F3F"/><path d="M129.9 628.1L135.5 631.7L135.5 638.9L129.9 642.5L124.3 638.9L124.3 631.7Z" fill="#6F3F3F"/><path d="M130.6 626.3L136.2 629.9L136.2 637.1L130.6 640.7L125.0 637.1L125.0 629.9Z" fill="#6F3F3F"/><path d="M131.5 624.2L137.1 627.8L137.1 635.0L131.5 638.6L125.9 635.0L125.9 627.8Z" fill="#6F3F3F"/><path d="M132.4 621.7L138.0 625.3L138.0 632.5L132.4 636.1L126.8 632.5L126.8 625.3Z" fill="#6F3F3F"/><path d="M133.5 619.0L139.1 622.6L139.1 629.8L133.5 633.4L127.9 629.8L127.9 622.6Z" fill="#6F3F3F"/><path d="M134.8 615.8L140.4 619.4L140.4 626.6L134.8 630.2L129.2 626.6L129.2 619.4Z" fill="#6F3F3F"/><path d="M136.3 612.2L141.9 615.8L141.9 623.0L136.3 626.6L130.7 623.0L130.7 615.8Z" fill="#6F3F3F"/><path d="M137.9 608.1L143.5 611.7L143.5 618.9L137.9 622.5L132.3 618.9L132.3 611.7Z" fill="#6F3F3F"/><path d="M139.8 603.4L145.4 607.0L145.4 614.2L139.8 617.8L134.2 614.2L134.2 607.0Z" fill="#6F3F3F"/><path d="M142.0 598.0L147.6 601.6L147.6 608.8L142.0 612.4L136.4 608.8L136.4 601.6Z" fill="#6F3F3F"/><path d="M144.5 591.8L150.1 595.4L150.1 602.6L144.5 606.2L138.9 602.6L138.9 595.4Z" fill="#6F3F3F"/><path d="M147.3 584.8L152.9 588.4L152.9 595.6L147.3 599.2L141.7 595.6L141.7 588.4Z" fill="#6F3F3F"/><path d="M150.5 576.7L156.1 580.3L156.1 587.5L150.5 591.1L144.9 587.5L144.9 580.3Z" fill="#6F3F3F"/><path d="M154.2 567.6L159.8 571.2L159.8 578.4L154.2 582.0L148.6 578.4L148.6 571.2Z" fill="#6F3F3F"/><path d="M158.4 557.1L164.0 560.7L164.0 567.9L158.4 571.5L152.8 567.9L152.8 560.7Z" fill="#6F3F3F"/><path d="M163.2 545.2L168.8 548.8L168.8 556.0L163.2 559.6L157.6 556.0L157.6 548.8Z" fill="#6F3F3F"/><path d="M168.8 531.5L174.4 535.1L174.4 542.3L168.8 545.9L163.2 542.3L163.2 535.1Z" fill="#6F3F3F"/><path d="M175.2 515.1L180.8 518.7L180.8 525.9L175.2 529.5L169.6 525.9L169.6 518.7Z" fill="#6F3F3F"/><path d="M182.7 497.3L188.3 500.9L188.3 508.1L182.7 511.7L177.1 508.1L177.1 500.9Z" fill="#6F3F3F"/><path d="M191.8 476.4L197.4 480.0L197.4 487.2L191.8 490.8L186.2 487.2L186.2 480.0Z" fill="#6F3F3F"/><path d="M202.0 452.4L207.6 456.0L207.6 463.2L202.0 466.8L196.4 463.2L196.4 456.0Z" fill="#6F3F3F"/><path d="M214.5 424.4L220.1 428.0L220.1 435.2L214.5 438.8L208.9 435.2L208.9 428.0Z" fill="#6F3F3F"/><path d="M229.2 393.5L234.8 397.1L234.8 404.3L229.2 407.9L223.6 404.3L223.6 397.1Z" fill="#6F3F3F"/><path d="M247.0 358.0L252.6 361.6L252.6 368.8L247.0 372.4L241.4 368.8L241.4 361.6Z" fill="#6F3F3F"/><path d="M269.0 318.2L274.6 321.8L274.6 329.0L269.0 332.6L263.4 329.0L263.4 321.8Z" fill="#6F3F3F"/><path d="M295.8 273.3L301.4 276.9L301.4 284.1L295.8 287.7L290.2 284.1L290.2 276.9Z" fill="#6F3F3F"/><path d="M328.3 230.7L333.9 234.3L333.9 241.5L328.3 245.1L322.7 241.5L322.7 234.3Z" fill="#6F3F3F"/><path d="M368.6 186.7L374.2 190.3L374.2 197.5L368.6 201.1L363.0 197.5L363.0 190.3Z" fill="#6F3F3F"/><path d="M415.5 148.7L421.1 152.3L421.1 159.5L415.5 163.1L409.9 159.5L409.9 152.3Z" fill="#6F3F3F"/><path d="M468.4 119.5L474.0 123.1L474.0 130.3L468.4 133.9L462.8 130.3L462.8 123.1Z" fill="#6F3F3F"/><path d="M524.4 101.1L530.0 104.7L530.0 111.9L524.4 115.5L518.8 111.9L518.8 104.7Z" fill="#6F3F3F"/><path d="M580.8 95.9L586.4 99.5L586.4 106.7L580.8 110.3L575.2 106.7L575.2 99.5Z" fill="#6F3F3F"/>
<line x1="141.5" x2="186.5" y1="46.9" y2="46.9" stroke="#484848" stroke-width="3.3" stroke-linecap="round"/>
<rect x="158.8" y="40.9" width="10" height="12" fill="#484848"/>
<text transform="translate(191.9,55.2) scale(0.825,1)" font-family="Liberation Sans, Arial, Helvetica, sans-serif" font-size="24.6">BSA</text>
<line x1="141.5" x2="186.5" y1="77.6" y2="77.6" stroke="#F63838" stroke-width="3.3" stroke-linecap="round"/>
<ellipse cx="163.8" cy="77.6" rx="5.6" ry="7" fill="#F63838"/>
<text transform="translate(191.9,85.9) scale(0.825,1)" font-family="Liberation Sans, Arial, Helvetica, sans-serif" font-size="24.6">10^1</text>
<line x1="141.5" x2="186.5" y1="108.3" y2="108.3" stroke="#0D5EE0" stroke-width="3.3" stroke-linecap="round"/>
<path d="M163.8 99.3L170.6 113.8L157.0 113.8Z" fill="#0D5EE0"/>
<text transform="translate(191.9,116.6) scale(0.825,1)" font-family="Liberation Sans, Arial, Helvetica, sans-serif" font-size="24.6">10^2</text>
<line x1="141.5" x2="186.5" y1="139.0" y2="139.0" stroke="#2AA862" stroke-width="3.3" stroke-linecap="round"/>
<path d="M163.8 148.0L170.6 133.5L157.0 133.5Z" fill="#2AA862"/>
<text transform="translate(191.9,147.3) scale(0.825,1)" font-family="Liberation Sans, Arial, Helvetica, sans-serif" font-size="24.6">10^3</text>
<line x1="141.5" x2="186.5" y1="169.7" y2="169.7" stroke="#B470E1" stroke-width="3.3" stroke-linecap="round"/>
<path d="M163.8 160.9L170.8 169.7L163.8 178.5L156.8 169.7Z" fill="#B470E1"/>
<text transform="translate(191.9,178.0) scale(0.825,1)" font-family="Liberation Sans, Arial, Helvetica, sans-serif" font-size="24.6">10^4</text>
<line x1="141.5" x2="186.5" y1="200.4" y2="200.4" stroke="#CC9707" stroke-width="3.3" stroke-linecap="round"/>
<path d="M156.8 200.4L168.0 191.8L168.0 209.0Z" fill="#CC9707"/>
<text transform="translate(191.9,208.7) scale(0.825,1)" font-family="Liberation Sans, Arial, Helvetica, sans-serif" font-size="24.6">10^5</text>
<line x1="141.5" x2="186.5" y1="231.1" y2="231.1" stroke="#08CED1" stroke-width="3.3" stroke-linecap="round"/>
<path d="M170.8 231.1L159.6 222.5L159.6 239.7Z" fill="#08CED1"/>
<text transform="translate(191.9,239.4) scale(0.825,1)" font-family="Liberation Sans, Arial, Helvetica, sans-serif" font-size="24.6">10^6</text>
<line x1="141.5" x2="186.5" y1="261.8" y2="261.8" stroke="#6F3F3F" stroke-width="3.3" stroke-linecap="round"/>
<path d="M163.8 254.6L169.4 258.2L169.4 265.4L163.8 269.0L158.2 265.4L158.2 258.2Z" fill="#6F3F3F"/>
<text transform="translate(191.9,270.1) scale(0.825,1)" font-family="Liberation Sans, Arial, Helvetica, sans-serif" font-size="24.6">10^7</text>
</g>
<g id="panelB">
<path d="M1004.7 20.2V658.2H1766.4V20.2Z" fill="none" stroke="#000" stroke-width="2.9"/>
<line x1="994" x2="1004.7" y1="587.3" y2="587.3" stroke="#000" stroke-width="2.9"/>
<text transform="translate(972.87,595.70) scale(0.9770,1.0000)" font-family="Liberation Sans, Arial, Helvetica, sans-serif" font-size="24.5" font-weight="bold" xml:space="preserve">0</text>
<line x1="994" x2="1004.7" y1="480.9" y2="480.9" stroke="#000" stroke-width="2.9"/>
<text transform="translate(932.93,489.27) scale(0.9770,1.0000)" font-family="Liberation Sans, Arial, Helvetica, sans-serif" font-size="24.5" font-weight="bold" xml:space="preserve">3000</text>
<line x1="994" x2="1004.7" y1="374.4" y2="374.4" stroke="#000" stroke-width="2.9"/>
<text transform="translate(932.93,382.84) scale(0.9770,1.0000)" font-family="Liberation Sans, Arial, Helvetica, sans-serif" font-size="24.5" font-weight="bold" xml:space="preserve">6000</text>
<line x1="994" x2="1004.7" y1="268.0" y2="268.0" stroke="#000" stroke-width="2.9"/>
<text transform="translate(932.93,276.41) scale(0.9770,1.0000)" font-family="Liberation Sans, Arial, Helvetica, sans-serif" font-size="24.5" font-weight="bold" xml:space="preserve">9000</text>
<line x1="994" x2="1004.7" y1="161.6" y2="161.6" stroke="#000" stroke-width="2.9"/>
<text transform="translate(919.62,169.98) scale(0.9770,1.0000)" font-family="Liberation Sans, Arial, Helvetica, sans-serif" font-size="24.5" font-weight="bold" xml:space="preserve">12000</text>
<line x1="994" x2="1004.7" y1="55.1" y2="55.1" stroke="#000" stroke-width="2.9"/>
<text transform="translate(919.62,63.55) scale(0.9770,1.0000)" font-family="Liberation Sans, Arial, Helvetica, sans-serif" font-size="24.5" font-weight="bold" xml:space="preserve">15000</text>
<line x1="999.4" x2="1004.7" y1="640.5" y2="640.5" stroke="#000" stroke-width="2.9"/>
<line x1="999.4" x2="1004.7" y1="534.1" y2="534.1" stroke="#000" stroke-width="2.9"/>
<line x1="999.4" x2="1004.7" y1="427.7" y2="427.7" stroke="#000" stroke-width="2.9"/>
<line x1="999.4" x2="1004.7" y1="321.2" y2="321.2" stroke="#000" stroke-width="2.9"/>
<line x1="999.4" x2="1004.7" y1="214.8" y2="214.8" stroke="#000" stroke-width="2.9"/>
<line x1="999.4" x2="1004.7" y1="108.4" y2="108.4" stroke="#000" stroke-width="2.9"/>
<line x1="1043.9" x2="1043.9" y1="658.2" y2="669.5" stroke="#000" stroke-width="2.9"/>
<text transform="translate(1037.31,698.30) scale(0.9800,1.0000)" font-family="Liberation Sans, Arial, Helvetica, sans-serif" font-size="25" font-weight="bold" xml:space="preserve">0</text>
<line x1="1141.6" x2="1141.6" y1="658.2" y2="669.5" stroke="#000" stroke-width="2.9"/>
<text transform="translate(1134.55,698.30) scale(0.9800,1.0000)" font-family="Liberation Sans, Arial, Helvetica, sans-serif" font-size="25" font-weight="bold" xml:space="preserve">1</text>
<line x1="1239.3" x2="1239.3" y1="658.2" y2="669.5" stroke="#000" stroke-width="2.9"/>
<text transform="translate(1232.73,698.30) scale(0.9800,1.0000)" font-family="Liberation Sans, Arial, Helvetica, sans-serif" font-size="25" font-weight="bold" xml:space="preserve">2</text>
<line x1="1337.0" x2="1337.0" y1="658.2" y2="669.5" stroke="#000" stroke-width="2.9"/>
<text transform="translate(1330.52,698.30) scale(0.9800,1.0000)" font-family="Liberation Sans, Arial, Helvetica, sans-serif" font-size="25" font-weight="bold" xml:space="preserve">3</text>
<line x1="1434.7" x2="1434.7" y1="658.2" y2="669.5" stroke="#000" stroke-width="2.9"/>
<text transform="translate(1427.93,698.30) scale(0.9800,1.0000)" font-family="Liberation Sans, Arial, Helvetica, sans-serif" font-size="25" font-weight="bold" xml:space="preserve">4</text>
<line x1="1532.4" x2="1532.4" y1="658.2" y2="669.5" stroke="#000" stroke-width="2.9"/>
<text transform="translate(1525.70,698.30) scale(0.9800,1.0000)" font-family="Liberation Sans, Arial, Helvetica, sans-serif" font-size="25" font-weight="bold" xml:space="preserve">5</text>
<line x1="1630.0" x2="1630.0" y1="658.2" y2="669.5" stroke="#000" stroke-width="2.9"/>
<text transform="translate(1623.42,698.30) scale(0.9800,1.0000)" font-family="Liberation Sans, Arial, Helvetica, sans-serif" font-size="25" font-weight="bold" xml:space="preserve">6</text>
<line x1="1727.7" x2="1727.7" y1="658.2" y2="669.5" stroke="#000" stroke-width="2.9"/>
<text transform="translate(1721.13,698.30) scale(0.9800,1.0000)" font-family="Liberation Sans, Arial, Helvetica, sans-serif" font-size="25" font-weight="bold" xml:space="preserve">7</text>
<line x1="1092.7" x2="1092.7" y1="658.2" y2="664" stroke="#000" stroke-width="2.9"/>
<line x1="1190.4" x2="1190.4" y1="658.2" y2="664" stroke="#000" stroke-width="2.9"/>
<line x1="1288.1" x2="1288.1" y1="658.2" y2="664" stroke="#000" stroke-width="2.9"/>
<line x1="1385.8" x2="1385.8" y1="658.2" y2="664" stroke="#000" stroke-width="2.9"/>
<line x1="1483.5" x2="1483.5" y1="658.2" y2="664" stroke="#000" stroke-width="2.9"/>
<line x1="1581.2" x2="1581.2" y1="658.2" y2="664" stroke="#000" stroke-width="2.9"/>
<line x1="1678.9" x2="1678.9" y1="658.2" y2="664" stroke="#000" stroke-width="2.9"/>
<text transform="translate(1227.99,749.40) scale(0.9881,1.0000)" font-family="Liberation Sans, Arial, Helvetica, sans-serif" font-size="35.33" font-weight="bold" font-style="italic" xml:space="preserve">E. coli</text>
<text transform="translate(1339.68,749.40) scale(0.9275,1.0000)" font-family="Liberation Sans, Arial, Helvetica, sans-serif" font-size="37.2" font-weight="bold" xml:space="preserve">(log</text>
<text transform="translate(1413.58,749.40) scale(0.9281,1.0000)" font-family="Liberation Sans, Arial, Helvetica, sans-serif" font-size="37.2" font-weight="bold" xml:space="preserve">CFU/ml)</text>
<text transform="translate(900.20,381.60) rotate(-90) translate(-1.44,0) scale(1.0830,1.0000)" font-family="Liberation Serif, Times New Roman, serif" font-size="34.99">Δ</text>
<text transform="translate(900.20,357.40) rotate(-90) translate(-2.26,0) scale(1.0040,1.0000)" font-family="Liberation Sans, Arial, Helvetica, sans-serif" font-size="33.58" font-weight="bold">R</text>
<text transform="translate(908.40,334.00) rotate(-90) translate(-1.13,0) scale(1.1851,1.0000)" font-family="Liberation Sans, Arial, Helvetica, sans-serif" font-size="24.37" font-weight="bold">ct</text>
<text transform="translate(900.20,300.40) rotate(-90) translate(-1.54,0) scale(0.9229,1.0000)" font-family="Liberation Sans, Arial, Helvetica, sans-serif" font-size="33.4" font-weight="bold">(</text>
<text transform="translate(900.20,290.30) rotate(-90) translate(-2.39,0) scale(1.3633,1.0000)" font-family="Liberation Serif, Times New Roman, serif" font-size="33.83">Ω</text>
<text transform="translate(900.20,259.60) rotate(-90) translate(-0.03,0) scale(0.9442,1.0000)" font-family="Liberation Sans, Arial, Helvetica, sans-serif" font-size="33.4" font-weight="bold">)</text>
<line x1="1049.5" y1="577.1" x2="1136.2" y2="418.8" stroke="#000" stroke-width="2.4"/>
<line x1="1147.8" y1="398.7" x2="1233.1" y2="258.3" stroke="#000" stroke-width="2.4"/>
<line x1="1248.4" y1="241.5" x2="1327.7" y2="183.2" stroke="#000" stroke-width="2.4"/>
<line x1="1346.9" y1="170.3" x2="1424.7" y2="123.5" stroke="#000" stroke-width="2.4"/>
<line x1="1446.1" y1="118.6" x2="1520.6" y2="126.1" stroke="#000" stroke-width="2.4"/>
<line x1="1543.7" y1="128.0" x2="1618.5" y2="133.0" stroke="#000" stroke-width="2.4"/>
<line x1="1641.7" y1="133.5" x2="1716.1" y2="131.4" stroke="#000" stroke-width="2.4"/>
<line x1="1043.9" x2="1043.9" y1="577.3" y2="597.3" stroke="#000" stroke-width="1.8"/>
<path d="M1043.9 576.1L1046.4 583.8L1054.6 583.8L1048.0 588.6L1050.5 596.4L1043.9 591.6L1037.3 596.4L1039.8 588.6L1033.2 583.8L1041.4 583.8Z" fill="#000"/>
<path d="M1135.8 389.1H1147.8M1135.8 427.3H1147.8M1141.8 389.1V427.3" stroke="#000" stroke-width="1.9" fill="none"/>
<path d="M1141.8 397.4L1144.3 405.1L1152.5 405.1L1145.9 409.9L1148.4 417.7L1141.8 412.9L1135.2 417.7L1137.7 409.9L1131.1 405.1L1139.3 405.1Z" fill="#000"/>
<path d="M1233.1 208.8H1245.1M1233.1 286.3H1245.1M1239.1 208.8V286.3" stroke="#000" stroke-width="1.9" fill="none"/>
<path d="M1239.1 237.2L1241.6 244.9L1249.8 244.9L1243.2 249.7L1245.7 257.5L1239.1 252.7L1232.5 257.5L1235.0 249.7L1228.4 244.9L1236.6 244.9Z" fill="#000"/>
<path d="M1331 138.8H1343M1331 213.1H1343M1337 138.8V213.1" stroke="#000" stroke-width="1.9" fill="none"/>
<path d="M1337.0 165.1L1339.5 172.8L1347.7 172.8L1341.1 177.6L1343.6 185.4L1337.0 180.6L1330.4 185.4L1332.9 177.6L1326.3 172.8L1334.5 172.8Z" fill="#000"/>
<path d="M1428.6 74.1H1440.6M1428.6 159.8H1440.6M1434.6 74.1V159.8" stroke="#000" stroke-width="1.9" fill="none"/>
<path d="M1434.6 106.3L1437.1 114.0L1445.3 114.0L1438.7 118.8L1441.2 126.6L1434.6 121.8L1428.0 126.6L1430.5 118.8L1423.9 114.0L1432.1 114.0Z" fill="#000"/>
<path d="M1526.1 82.9H1538.1M1526.1 169.3H1538.1M1532.1 82.9V169.3" stroke="#000" stroke-width="1.9" fill="none"/>
<path d="M1532.1 116.0L1534.6 123.7L1542.8 123.7L1536.2 128.5L1538.7 136.3L1532.1 131.5L1525.5 136.3L1528.0 128.5L1521.4 123.7L1529.6 123.7Z" fill="#000"/>
<path d="M1624.1 80H1636.1M1624.1 187.3H1636.1M1630.1 80V187.3" stroke="#000" stroke-width="1.9" fill="none"/>
<path d="M1630.1 122.6L1632.6 130.3L1640.8 130.3L1634.2 135.1L1636.7 142.9L1630.1 138.1L1623.5 142.9L1626.0 135.1L1619.4 130.3L1627.6 130.3Z" fill="#000"/>
<path d="M1721.7 92.2H1733.7M1721.7 169.3H1733.7M1727.7 92.2V169.3" stroke="#000" stroke-width="1.9" fill="none"/>
<path d="M1727.7 119.9L1730.2 127.6L1738.4 127.6L1731.8 132.4L1734.3 140.2L1727.7 135.4L1721.1 140.2L1723.6 132.4L1717.0 127.6L1725.2 127.6Z" fill="#000"/>
</g>
<g id="panelC" stroke="#000" fill="none">
<path d="M537 1000.7H575" stroke-width="4.1"/>
<path d="M590 1000.7H636.6" stroke-width="4.1"/><path d="M625.6 1001.3000000000001H636.6" stroke-width="5.3"/><path d="M738 1000.7H693.2" stroke-width="4.1"/><path d="M704.2 1001.3000000000001H693.2" stroke-width="5.3"/><path d="M635.6 1000.7L640.9 971.2L650.2 1031.2L659.6 971.2L669.5 1031.2L678.7 971.2L688.3 1031.2L694.2 1000.7" stroke-width="2" stroke-linejoin="miter"/>
<path d="M775 919.5H761.5V1082.9H775M885 919.5H899.7V1082.9H885" stroke-width="2.8"/>
<path d="M756 1000.7H761M899 1000.7H905M925.2 1000.7H928" stroke-width="3.4"/>
<path d="M785 919.5H825.4" stroke-width="4.1"/><path d="M791.4 920.1H825.4" stroke-width="5.3"/><path d="M876 919.5H837.9" stroke-width="4.1"/><path d="M871.9 920.1H837.9" stroke-width="5.3"/><path d="M825.4 889.0V949.5" stroke-width="3.2"/><path d="M838.1 889.3L833.0 905.0L838.1 919.5L833.0 933.8L837.1 949.0" stroke-width="2"/>
<path d="M785 1082.9H801.4" stroke-width="4.1"/><path d="M790.4 1083.5H801.4" stroke-width="5.3"/><path d="M876 1082.9H857.9" stroke-width="4.1"/><path d="M868.9 1083.5H857.9" stroke-width="5.3"/><path d="M800.4 1082.9L805.7 1053.4L815.0 1113.4L824.4 1053.4L834.2 1113.4L843.4 1053.4L853.0 1113.4L858.9 1082.9" stroke-width="2" stroke-linejoin="miter"/>
<path d="M941 919.5H928.4V1082.9H941M1218 919.5H1232.6V1082.9H1218" stroke-width="2.8"/>
<path d="M951 919.5H993" stroke-width="4.1"/><path d="M959 920.1H993" stroke-width="5.3"/><path d="M1037 919.5H1005.5" stroke-width="4.1"/><path d="M1037.0 920.1H1005.5" stroke-width="5.3"/><path d="M1033 919.0H1209" stroke-width="4"/><path d="M993 889.0V949.5" stroke-width="3.2"/><path d="M1005.7 889.3L1000.6 905.0L1005.7 919.5L1000.6 933.8L1004.7 949.0" stroke-width="2"/>
<path d="M951 1082.9H968.7" stroke-width="4.1"/><path d="M957.7 1083.5H968.7" stroke-width="5.3"/><path d="M1071 1082.9H1026.5" stroke-width="4.1"/><path d="M1037.5 1083.5H1026.5" stroke-width="5.3"/><path d="M967.7 1082.9L973.1 1053.4L982.6 1113.4L992.2 1053.4L1002.3 1113.4L1011.7 1053.4L1021.5 1113.4L1027.5 1082.9" stroke-width="2" stroke-linejoin="miter"/>
<path d="M1089 1082.9H1144" stroke-width="4.1"/><path d="M1123 1083.5H1144" stroke-width="5.3"/><path d="M1209 1082.9H1183" stroke-width="4.1"/><path d="M1201 1083.5H1183" stroke-width="5.3"/>
<path d="M1143.4 1053.8H1183.9M1143.4 1109.4H1183.9" stroke-width="4.6"/>
<path d="M1144.8 1052V1111.6M1182.5 1052V1111.6" stroke-width="2.8"/>
<path d="M1233 1000.7H1239" stroke-width="3.6"/>
<ellipse cx="1246.1" cy="1000.3000000000001" rx="7.3" ry="11.4" stroke-width="1.9" stroke="#222" fill="#fff"/>
<path d="M1258 1000.5H1290.6" stroke="#d2d2d2" stroke-width="2"/>
<ellipse cx="581.1" cy="1000.7" rx="9" ry="14.7" fill="#fff" stroke="#000" stroke-width="2.1"/><ellipse cx="581.1" cy="1000.7" rx="5.2" ry="8" fill="#111" stroke="none"/>
<ellipse cx="746.7" cy="1000.7" rx="9" ry="14.7" fill="#fff" stroke="#000" stroke-width="2.1"/><ellipse cx="746.7" cy="1000.7" rx="5.2" ry="8" fill="#111" stroke="none"/>
<ellipse cx="775.9" cy="919.5" rx="9" ry="14.7" fill="#fff" stroke="#000" stroke-width="2.1"/><ellipse cx="775.9" cy="919.5" rx="5.2" ry="8" fill="#111" stroke="none"/>
<ellipse cx="885" cy="919.5" rx="9" ry="14.7" fill="#fff" stroke="#000" stroke-width="2.1"/><ellipse cx="885" cy="919.5" rx="5.2" ry="8" fill="#111" stroke="none"/>
<ellipse cx="775.9" cy="1082.9" rx="9" ry="14.7" fill="#fff" stroke="#000" stroke-width="2.1"/><ellipse cx="775.9" cy="1082.9" rx="5.2" ry="8" fill="#111" stroke="none"/>
<ellipse cx="885" cy="1082.9" rx="9" ry="14.7" fill="#fff" stroke="#000" stroke-width="2.1"/><ellipse cx="885" cy="1082.9" rx="5.2" ry="8" fill="#111" stroke="none"/>
<ellipse cx="912.7" cy="1000.7" rx="9" ry="14.7" fill="#fff" stroke="#000" stroke-width="2.1"/><ellipse cx="912.7" cy="1000.7" rx="5.2" ry="8" fill="#111" stroke="none"/>
<ellipse cx="941.9" cy="919.5" rx="9" ry="14.7" fill="#fff" stroke="#000" stroke-width="2.1"/><ellipse cx="941.9" cy="919.5" rx="5.2" ry="8" fill="#111" stroke="none"/>
<ellipse cx="1218.3" cy="919.5" rx="9" ry="14.7" fill="#fff" stroke="#000" stroke-width="2.1"/><ellipse cx="1218.3" cy="919.5" rx="5.2" ry="8" fill="#111" stroke="none"/>
<ellipse cx="941.9" cy="1082.9" rx="9" ry="14.7" fill="#fff" stroke="#000" stroke-width="2.1"/><ellipse cx="941.9" cy="1082.9" rx="5.2" ry="8" fill="#111" stroke="none"/>
<ellipse cx="1079.9" cy="1082.9" rx="9" ry="14.7" fill="#fff" stroke="#000" stroke-width="2.1"/><ellipse cx="1079.9" cy="1082.9" rx="5.2" ry="8" fill="#111" stroke="none"/>
<ellipse cx="1218.3" cy="1082.9" rx="9" ry="14.7" fill="#fff" stroke="#000" stroke-width="2.1"/><ellipse cx="1218.3" cy="1082.9" rx="5.2" ry="8" fill="#111" stroke="none"/>
</g>
<text transform="translate(654.56,958.30) scale(0.6514,1.0000)" font-family="Liberation Sans, Arial, Helvetica, sans-serif" font-size="21.66" font-weight="bold" fill="#1a1a1a" xml:space="preserve">R1</text>
<text transform="translate(820.26,875.90) scale(0.6223,1.0000)" font-family="Liberation Sans, Arial, Helvetica, sans-serif" font-size="21.34" font-weight="bold" fill="#1a1a1a" xml:space="preserve">Q1</text>
<text transform="translate(820.66,1039.20) scale(0.6601,1.0000)" font-family="Liberation Sans, Arial, Helvetica, sans-serif" font-size="21.34" font-weight="bold" fill="#1a1a1a" xml:space="preserve">R2</text>
<text transform="translate(987.56,1039.20) scale(0.6579,1.0000)" font-family="Liberation Sans, Arial, Helvetica, sans-serif" font-size="21.34" font-weight="bold" fill="#1a1a1a" xml:space="preserve">R3</text>
<text transform="translate(987.03,875.90) scale(0.6508,1.0000)" font-family="Liberation Sans, Arial, Helvetica, sans-serif" font-size="21.34" font-weight="bold" fill="#1a1a1a" xml:space="preserve">Q2</text>
<text transform="translate(1151.99,1039.00) scale(0.6361,1.0000)" font-family="Liberation Sans, Arial, Helvetica, sans-serif" font-size="21.8" font-weight="bold" fill="#1a1a1a" xml:space="preserve">W1</text>
<text stroke="#111" stroke-width="0.6" transform="translate(1148.66,1100.20) scale(0.6882,1.0000)" font-family="Liberation Sans, Arial, Helvetica, sans-serif" font-size="45.64" fill="#111" xml:space="preserve">W</text>
</svg>
</body></html>
